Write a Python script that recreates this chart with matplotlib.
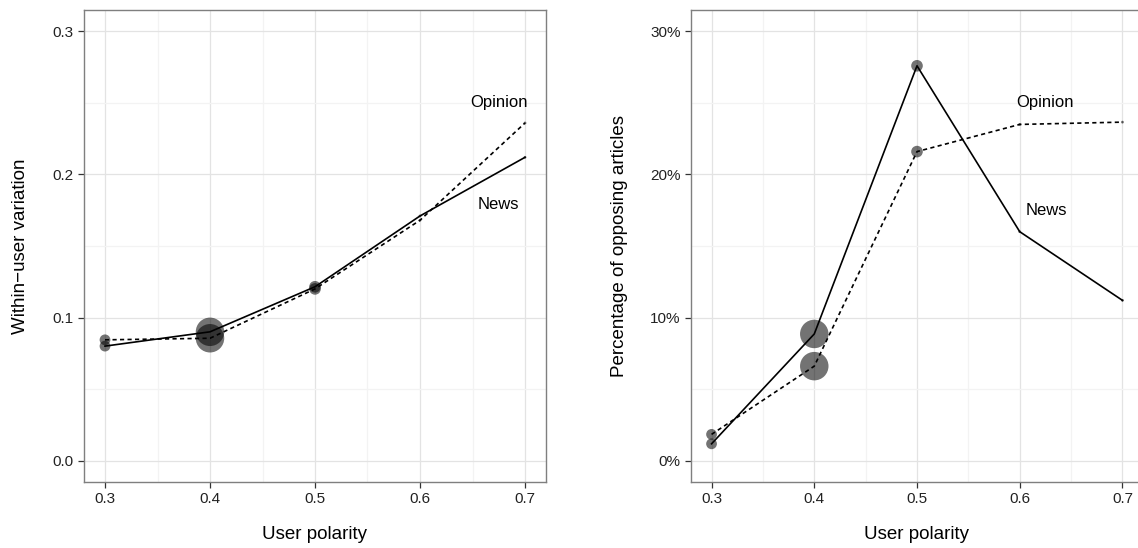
import numpy as np
import matplotlib
matplotlib.use('Agg')
import matplotlib.pyplot as plt
from matplotlib.ticker import MultipleLocator, FuncFormatter

plt.rcParams['font.family'] = ['Liberation Sans', 'DejaVu Sans']

polarity = [0.3, 0.4, 0.5, 0.6, 0.7]

# left panel: within-user variation
var_news = [0.080, 0.090, 0.1215, 0.171, 0.212]
var_opinion = [0.0844, 0.0855, 0.120, 0.168, 0.236]

# right panel: share of opposing articles (%)
opp_news = [1.17, 8.85, 27.6, 16.0, 11.2]
opp_opinion = [1.83, 6.6, 21.6, 23.5, 23.66]

# relative group size at each polarity (marker area)
pt_size = [60, 420, 70, 4, 4]

fig = plt.figure(figsize=(11.38, 5.48), dpi=100)
ax1 = fig.add_axes([84/1138, 66/548, 462/1138, 472/548])
ax2 = fig.add_axes([691/1138, 66/548, 452/1138, 472/548])


def style(ax):
    ax.set_xlim(0.28, 0.72)
    ax.xaxis.set_major_locator(MultipleLocator(0.1))
    ax.xaxis.set_minor_locator(MultipleLocator(0.05))
    ax.grid(which='major', color='#e3e3e3', lw=0.9, zorder=0)
    ax.grid(which='minor', color='#f3f3f3', lw=0.9, zorder=0)
    ax.set_axisbelow(True)
    for s in ax.spines.values():
        s.set_color('#7f7f7f')
        s.set_linewidth(1.0)
    ax.tick_params(which='major', length=4.3, width=0.9, color='#333333',
                   labelsize=11, labelcolor='#222222', pad=3)
    ax.tick_params(which='minor', length=0)
    ax.set_xlabel('User polarity', fontsize=13.5, labelpad=14)


def draw(ax, news, opinion):
    ax.scatter(polarity, news, s=pt_size, color='black', alpha=0.55, lw=0, zorder=2)
    ax.scatter(polarity, opinion, s=pt_size, color='black', alpha=0.55, lw=0, zorder=2)
    ax.plot(polarity, news, color='black', lw=1.2, zorder=3)
    ax.plot(polarity, opinion, color='black', lw=1.2, dashes=(2.5, 2.0), zorder=3)


style(ax1)
draw(ax1, var_news, var_opinion)
ax1.set_ylim(-0.015, 0.315)
ax1.yaxis.set_major_locator(MultipleLocator(0.1))
ax1.yaxis.set_minor_locator(MultipleLocator(0.05))
ax1.yaxis.set_major_formatter(FuncFormatter(lambda v, p: '%.1f' % v))
ax1.set_ylabel('Within\u2212user variation', fontsize=13.5, labelpad=17)
ax1.text(0.675, 0.250, 'Opinion', fontsize=12, ha='center', va='center')
ax1.text(0.675, 0.179, 'News', fontsize=12, ha='center', va='center')

style(ax2)
draw(ax2, opp_news, opp_opinion)
ax2.set_ylim(-1.5, 31.5)
ax2.yaxis.set_major_locator(MultipleLocator(10))
ax2.yaxis.set_minor_locator(MultipleLocator(5))
ax2.yaxis.set_major_formatter(FuncFormatter(lambda v, p: '%d%%' % round(v)))
ax2.set_ylabel('Percentage of opposing articles', fontsize=13.5, labelpad=16)
ax2.text(0.625, 25.0, 'Opinion', fontsize=12, ha='center', va='center')
ax2.text(0.626, 17.45, 'News', fontsize=12, ha='center', va='center')

fig.savefig('out.png', dpi=100)
